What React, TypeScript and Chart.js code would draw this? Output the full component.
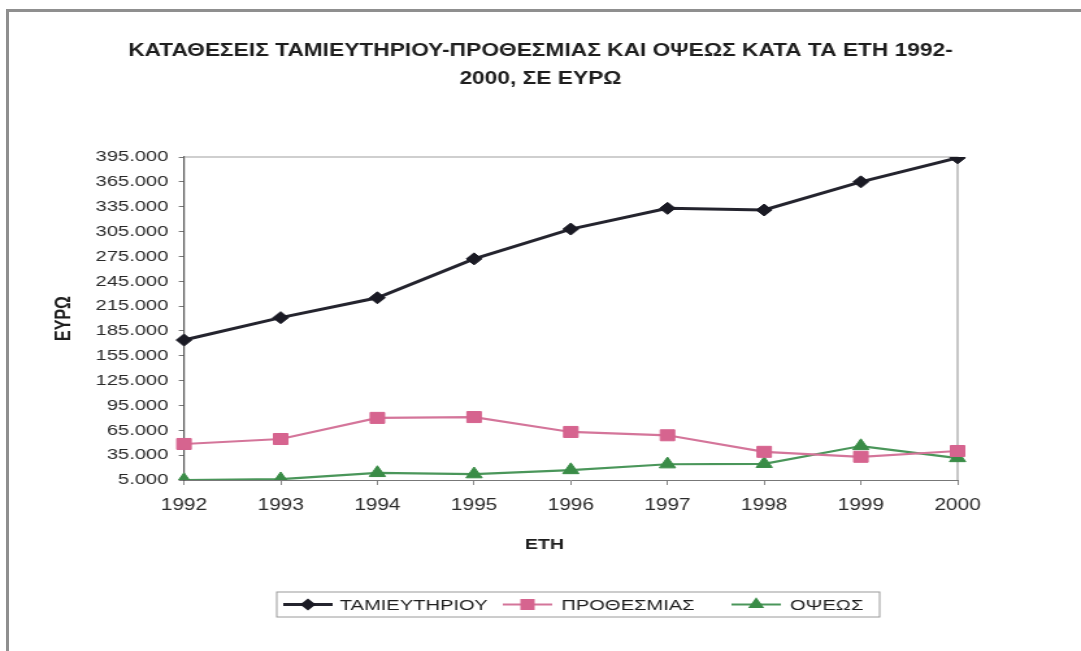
import React, { useEffect, useRef } from 'react';
import { Chart, registerables } from 'chart.js';

Chart.register(...registerables);

// ---- data ----
const years = ['1992', '1993', '1994', '1995', '1996', '1997', '1998', '1999', '2000'];
const tamieutiriou = [174000, 201000, 225000, 272000, 308000, 333000, 331000, 365000, 394000];
const prothesmias = [48500, 54500, 80000, 81000, 63000, 59000, 39000, 33000, 40000];
const opseos = [5000, 6000, 13500, 12000, 17000, 24000, 24500, 46000, 31500];
const yTickValues = [5000, 35000, 65000, 95000, 125000, 155000, 185000, 215000, 245000, 275000, 305000, 335000, 365000, 395000];
const seriesNames = ['ΤΑΜΙΕΥΤΗΡΙΟΥ', 'ΠΡΟΘΕΣΜΙΑΣ', 'ΟΨΕΩΣ'];
const titleLines = ['ΚΑΤΑΘΕΣΕΙΣ ΤΑΜΙΕΥΤΗΡΙΟΥ-ΠΡΟΘΕΣΜΙΑΣ ΚΑΙ ΟΨΕΩΣ ΚΑΤΑ ΤΑ ΕΤΗ 1992-', '2000, ΣΕ ΕΥΡΩ'];
const xTitle = 'ΕΤΗ';
const yTitle = 'ΕΥΡΩ';

// ---- style ----
const FAMILY = "'Liberation Sans', Arial, sans-serif";
const LOGICAL_W = 832;
const STRETCH = 1081 / LOGICAL_W;
const seriesColors = ['#1a1a24', '#d6648f', '#3a8c47'];
const lineColors = ['#24242e', '#d4759a', '#4a965a'];
const pointStyles = ['rectRot', 'rect', 'triangle'];
const pointRadii = [6, 7.8, 7.2];
const lineWidths = [3, 2.2, 2.2];

// legend layout (logical px)
const legendBox = { x: 213, y: 592, w: 464, h: 25 };
const legendSymbolX = [237, 406, 582];
const legendTextX = [261.5, 432, 608];

function drawMarker(ctx: CanvasRenderingContext2D, style: string, x: number, y: number, r: number) {
  ctx.beginPath();
  if (style === 'rectRot') {
    ctx.moveTo(x, y - r);
    ctx.lineTo(x + r, y);
    ctx.lineTo(x, y + r);
    ctx.lineTo(x - r, y);
  } else if (style === 'rect') {
    const s = r * Math.SQRT1_2;
    ctx.rect(x - s, y - s, 2 * s, 2 * s);
  } else {
    for (let i = 0; i < 3; i++) {
      const a = (i * 2 * Math.PI) / 3;
      const px = x + Math.sin(a) * r;
      const py = y - Math.cos(a) * r;
      if (i === 0) ctx.moveTo(px, py);
      else ctx.lineTo(px, py);
    }
  }
  ctx.closePath();
  ctx.fill();
}

const decorPlugin = {
  id: 'decor',
  beforeDatasetsDraw(chart: any) {
    const { ctx, chartArea: a } = chart;
    ctx.save();
    ctx.strokeStyle = '#a0a0a0';
    ctx.lineWidth = 1.2;
    ctx.beginPath();
    ctx.moveTo(a.left, a.top);
    ctx.lineTo(a.right, a.top);
    ctx.lineTo(a.right, a.bottom);
    ctx.stroke();
    ctx.restore();
  },
  afterDraw(chart: any) {
    const { ctx } = chart;
    ctx.save();
    // x axis title
    ctx.fillStyle = '#1e1e1e';
    ctx.font = `bold 15px ${FAMILY}`;
    ctx.textAlign = 'center';
    ctx.textBaseline = 'middle';
    ctx.fillText(xTitle, 419, 545);
    // legend box
    ctx.strokeStyle = '#9a9a9a';
    ctx.lineWidth = 1;
    ctx.strokeRect(legendBox.x, legendBox.y, legendBox.w, legendBox.h);
    const cy = legendBox.y + legendBox.h / 2;
    ctx.font = `15.5px ${FAMILY}`;
    ctx.textAlign = 'left';
    seriesNames.forEach((name, i) => {
      const sx = legendSymbolX[i];
      ctx.strokeStyle = lineColors[i];
      ctx.lineWidth = lineWidths[i];
      ctx.beginPath();
      ctx.moveTo(sx - 19, cy);
      ctx.lineTo(sx + 19, cy);
      ctx.stroke();
      ctx.fillStyle = seriesColors[i];
      drawMarker(ctx, pointStyles[i], sx, cy, pointRadii[i]);
      ctx.fillStyle = '#1e1e1e';
      ctx.fillText(name, legendTextX[i], cy + 1);
    });
    ctx.restore();
  },
};

export default function App() {
  const ref = useRef<HTMLCanvasElement>(null);

  useEffect(() => {
    const seriesData = [tamieutiriou, prothesmias, opseos];
    const chart = new Chart(ref.current as HTMLCanvasElement, {
      type: 'line',
      data: {
        labels: years,
        datasets: seriesNames.map((name, i) => ({
          label: name,
          data: seriesData[i],
          borderColor: lineColors[i],
          backgroundColor: seriesColors[i],
          pointBackgroundColor: seriesColors[i],
          pointBorderColor: seriesColors[i],
          pointStyle: pointStyles[i] as any,
          pointRadius: pointRadii[i],
          pointBorderWidth: 1,
          borderWidth: lineWidths[i],
          tension: 0,
          fill: false,
          yAxisID: 'y',
        })),
      },
      options: {
        animation: false,
        responsive: true,
        maintainAspectRatio: false,
        layout: { padding: { left: 0, right: 0, top: 0, bottom: 91 } },
        plugins: {
          legend: { display: false },
          tooltip: { enabled: false },
          title: {
            display: true,
            text: titleLines,
            color: '#1e1e1e',
            font: { family: FAMILY, size: 17.5, weight: 'bold', lineHeight: 1.6 },
            padding: { top: 37, bottom: 64 },
          },
        },
        scales: {
          x: {
            type: 'category',
            offset: false,
            grid: { drawOnChartArea: false, drawTicks: true, tickLength: 5, color: '#888' },
            border: { color: '#777', width: 1 },
            ticks: {
              font: { family: FAMILY, size: 16 },
              color: '#2a2a2a',
              padding: 11,
              maxRotation: 0,
              autoSkip: false,
            },
            afterFit: (s: any) => {
              s.height = 80;
            },
          },
          y: {
            type: 'linear',
            position: 'left',
            min: 5000,
            max: 395000,
            afterBuildTicks: (s: any) => {
              s.ticks = yTickValues.map((v) => ({ value: v }));
            },
            ticks: {
              font: { family: FAMILY, size: 15.5 },
              color: '#2a2a2a',
              padding: 8,
              callback: (v: any) => `${Math.round(Number(v) / 1000)}.000`,
            },
            grid: { drawOnChartArea: false, drawTicks: true, tickLength: 4, color: '#777' },
            border: { color: '#555', width: 1.2 },
            title: {
              display: true,
              text: yTitle,
              color: '#1e1e1e',
              font: { family: FAMILY, size: 16, weight: 'bold' },
              padding: { top: 39.6, bottom: 0 },
            },
            afterFit: (s: any) => {
              s.width = 141.6;
            },
          },
          yR: {
            type: 'linear',
            position: 'right',
            display: true,
            ticks: { display: false },
            grid: { display: false },
            border: { display: false },
            afterFit: (s: any) => {
              s.width = 95;
            },
          },
        },
      },
      plugins: [decorPlugin],
    });
    return () => chart.destroy();
  }, []);

  return (
    <div>
      <div style={{ position: 'absolute', left: 0, top: 0, width: 1081, height: 651, background: '#fff' }} />
      <div
        style={{
          position: 'absolute',
          left: 0,
          top: 0,
          width: LOGICAL_W,
          height: 651,
          transform: `scaleX(${STRETCH})`,
          transformOrigin: '0 0',
        }}
      >
        <canvas ref={ref} />
      </div>
      <div
        style={{
          position: 'absolute',
          left: 6,
          top: 9,
          width: 1075,
          height: 642,
          boxSizing: 'border-box',
          borderTop: '3px solid #8f8f8f',
          borderLeft: '3px solid #8f8f8f',
          pointerEvents: 'none',
        }}
      />
    </div>
  );
}
